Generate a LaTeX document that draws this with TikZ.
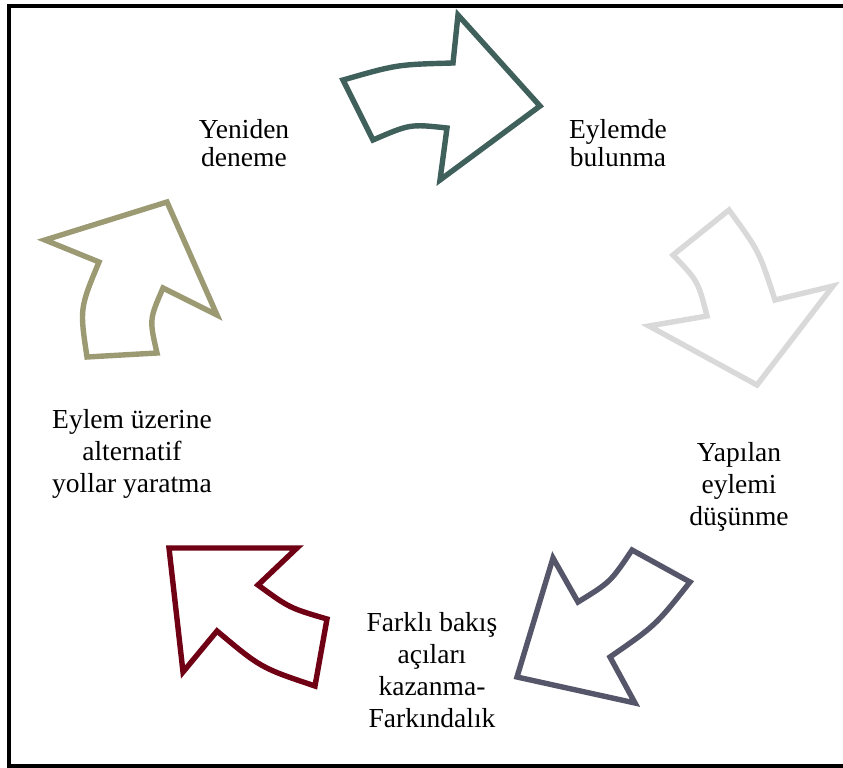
\documentclass[tikz,border=0pt]{standalone}
\usepackage{fontspec}
\setmainfont{Liberation Serif}
\begin{document}
\begin{tikzpicture}[x=1pt,y=-1pt,
  cyclearrow/.style={line width=5.4pt,line join=miter,miter limit=10,fill=white},
  label/.style={align=center,inner sep=0pt,font=\fontsize{27.5}{32}\selectfont},
  labeltight/.style={align=center,inner sep=0pt,font=\fontsize{27.5}{28}\selectfont}]
\definecolor{tealc}{RGB}{64,96,92}
\definecolor{greyc}{RGB}{217,217,217}
\definecolor{slatec}{RGB}{86,86,106}
\definecolor{maroonc}{RGB}{112,0,20}
\definecolor{olivec}{RGB}{156,154,115}
\useasboundingbox (0,0) rectangle (843,768);
% outer frame
\draw[line width=4pt] (860,5.6) -- (9.2,5.6) -- (9.2,766) -- (860,766);

% top arrow
\draw[cyclearrow,draw=tealc] (343,80) .. controls (397,64.5) .. (453,63) -- (458,15) -- (540,106)
  -- (440,180) -- (447,128) .. controls (410,124) .. (373,140) -- cycle;
% right arrow
\draw[cyclearrow,draw=greyc] (673,255) -- (729,210) .. controls (759,251) .. (775,300)
  -- (833,286) -- (757,385) -- (649,326) -- (707,316) .. controls (698,281) .. cycle;
% lower right arrow
\draw[cyclearrow,draw=slatec] (632,550) -- (690,582) .. controls (655.5,625.5) .. (610,657)
  -- (635,703) -- (517,677) -- (553,558) -- (578,602) .. controls (610.5,582) .. cycle;
% lower left arrow
\draw[cyclearrow,draw=maroonc] (169,548) -- (297,548) -- (258,585) .. controls (289.5,608) .. (327,619)
  -- (315,686) .. controls (260.8,667.8) .. (217,631) -- (183,672) -- cycle;
% left arrow
\draw[cyclearrow,draw=olivec] (45,240) -- (167,202) -- (217,315) -- (163,288)
  .. controls (149.3,319.5) .. (157,353) -- (87,357) .. controls (79.7,308.5) .. (99,262) -- cycle;

% step labels
\node[labeltight] (retry) at (244,143) {Yeniden\\deneme};
\node[labeltight] (act) at (618,143) {Eylemde\\bulunma};
\node[label] (reflect) at (739,487) {Yapılan\\eylemi\\düşünme};
\node[label] (aware) at (432,670) {Farklı bakış\\açıları\\kazanma-\\Farkındalık};
\node[label] (alt) at (132,454) {Eylem üzerine\\alternatif\\yollar yaratma};
\end{tikzpicture}
\end{document}
